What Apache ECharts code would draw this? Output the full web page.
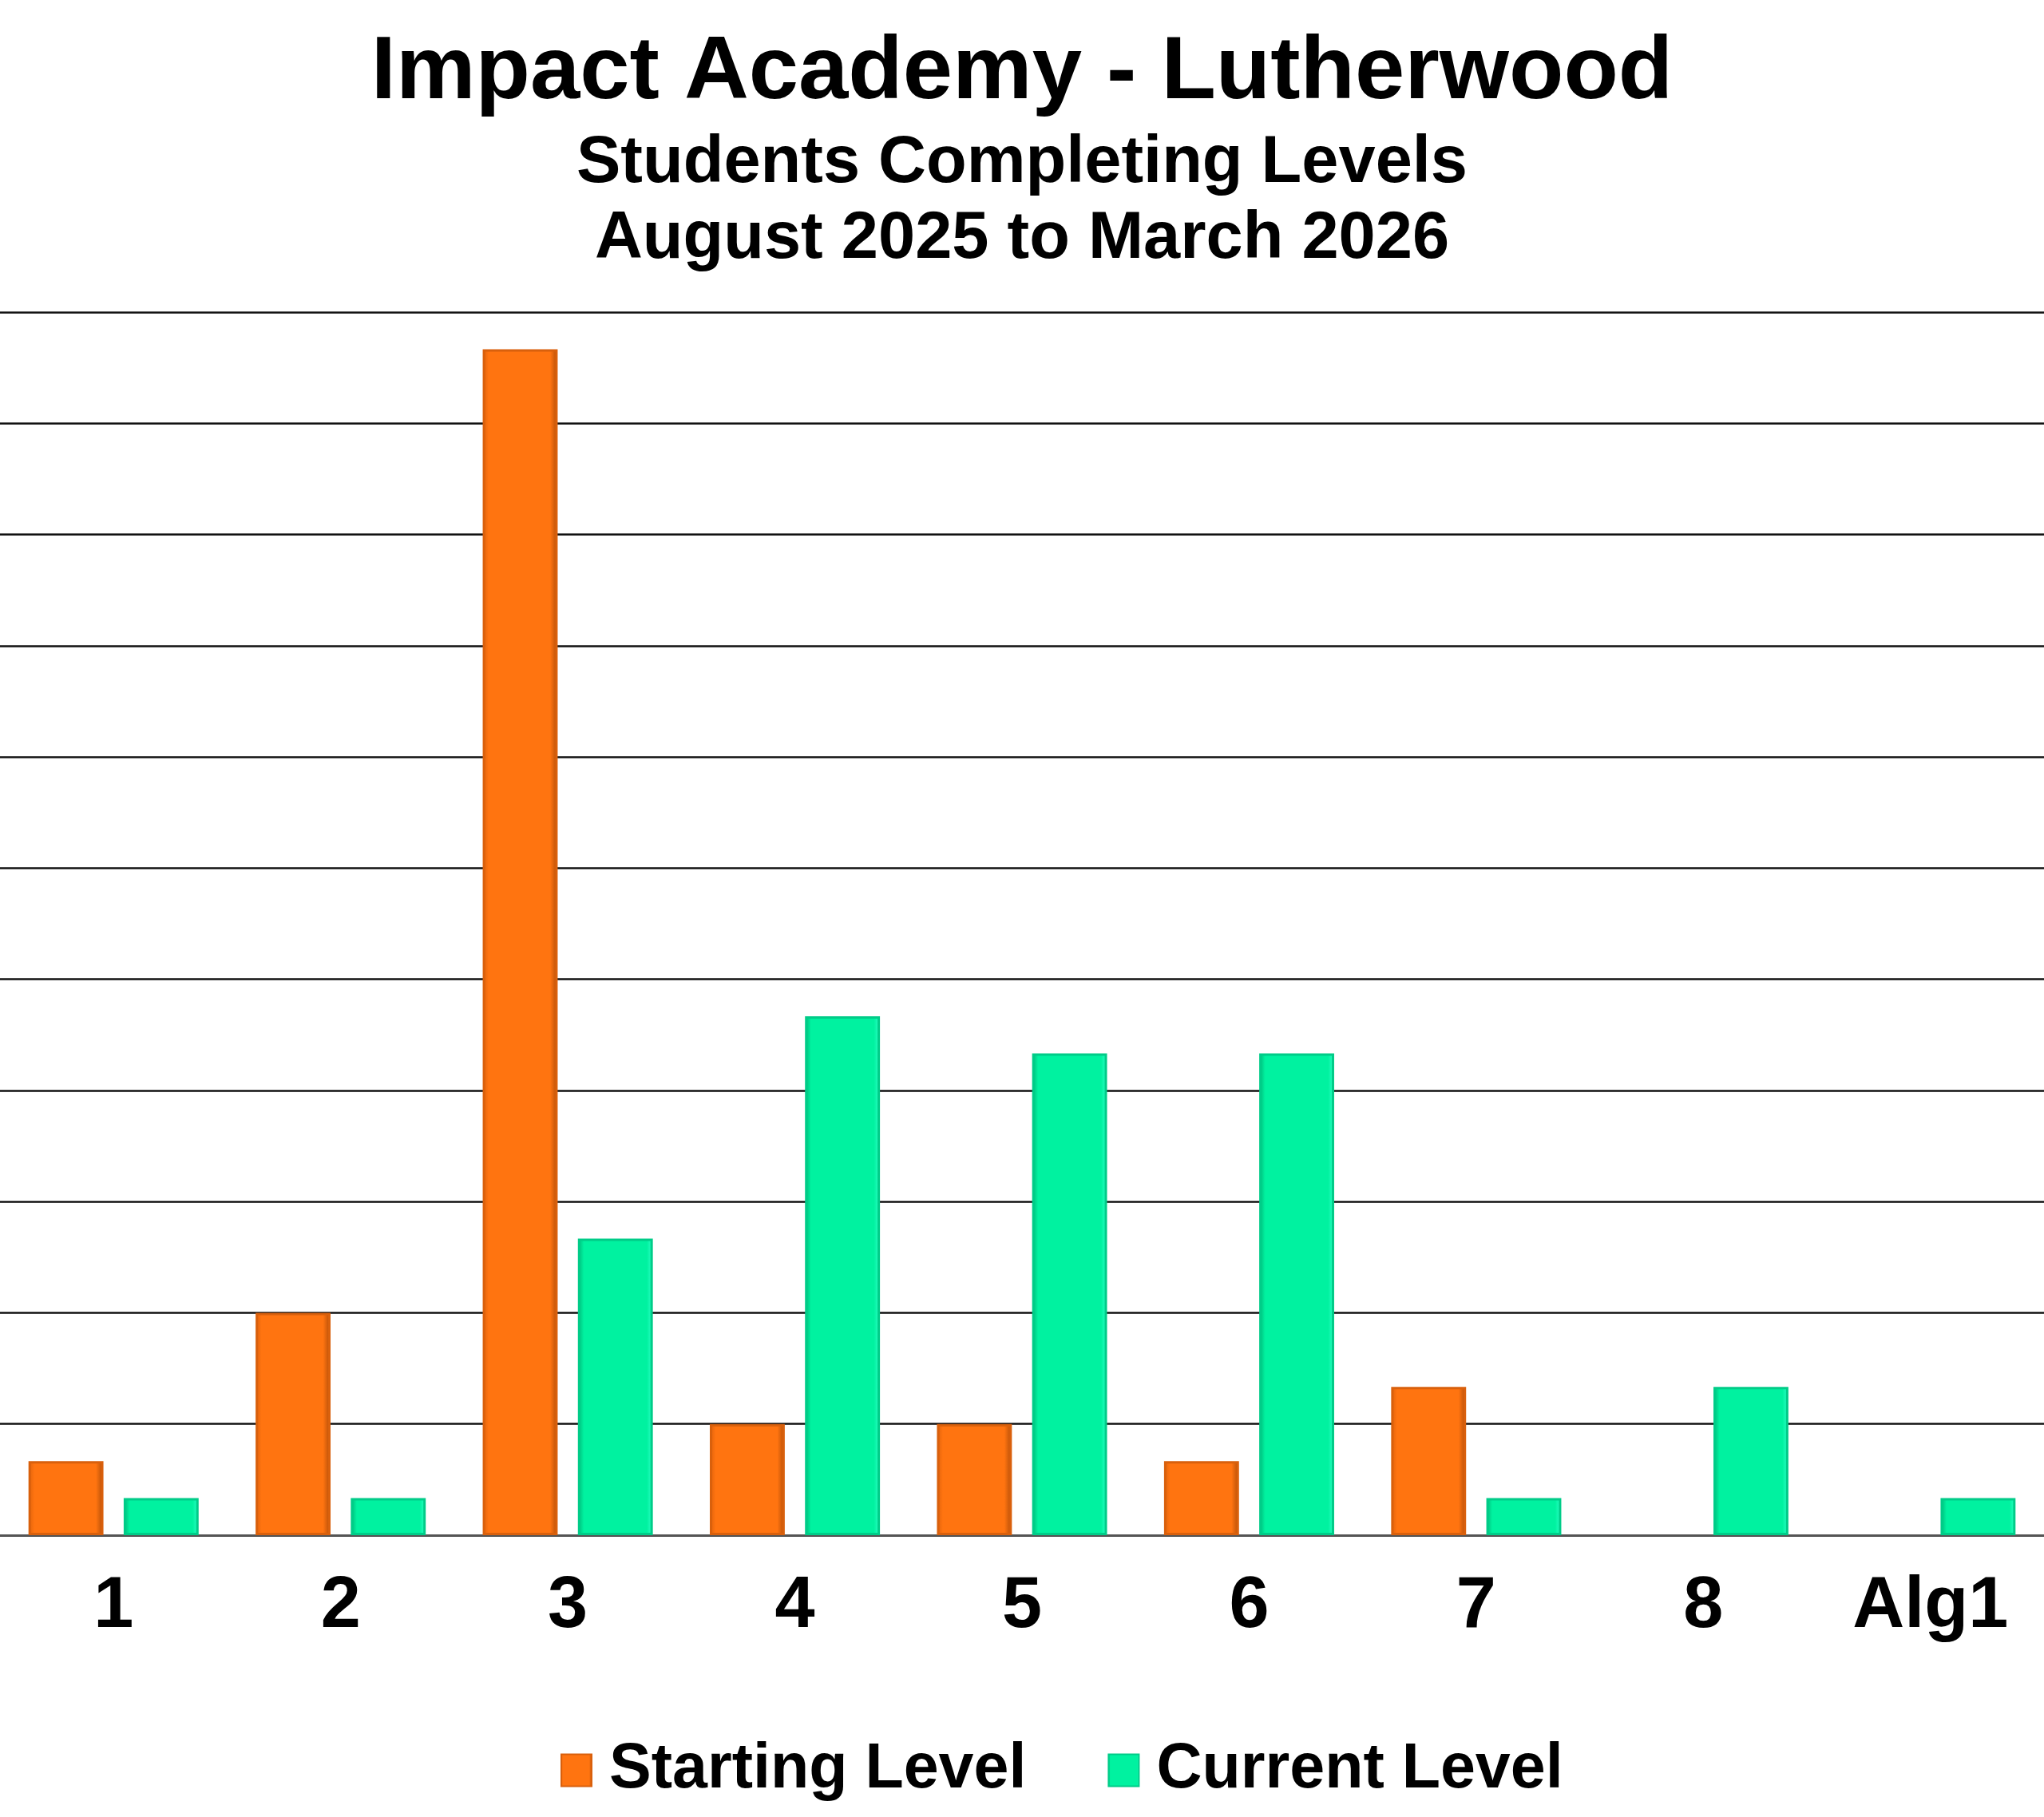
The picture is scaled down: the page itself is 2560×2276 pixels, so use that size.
<!DOCTYPE html>
<html>
<head>
<meta charset="utf-8">
<script src="https://cdn.jsdelivr.net/npm/echarts@6/dist/echarts.min.js"></script>
<style>
html,body{margin:0;padding:0;background:#fff;}
#chart{width:2560px;height:2276px;}
</style>
</head>
<body>
<div id="chart"></div>
<script>
const categories = ['1','2','3','4','5','6','7','8','Alg1'];
const startingLevel = [2, 6, 32, 3, 3, 2, 4, 0, 0];
const currentLevel = [1, 1, 8, 14, 13, 13, 1, 4, 1];
const seriesNames = ['Starting Level', 'Current Level'];
const titleLines = ['Impact Academy - Lutherwood', 'Students Completing Levels', 'August 2025 to March 2026'];

const FONT = '"Liberation Sans", Arial, sans-serif';
const hideZero = arr => arr.map(v => v === 0 ? '-' : v);

const chart = echarts.init(document.getElementById('chart'), null, {renderer: 'canvas'});
chart.setOption({
  backgroundColor: '#ffffff',
  animation: false,
  title: [
    {text: titleLines[0], left: 'center', top: 31,
     textStyle: {fontFamily: FONT, fontWeight: 'bold', fontSize: 112, lineHeight: 112, color: '#000'}},
    {text: titleLines[1], left: 'center', top: 159,
     textStyle: {fontFamily: FONT, fontWeight: 'bold', fontSize: 83, lineHeight: 83, color: '#000'}},
    {text: titleLines[2], left: 'center', top: 254,
     textStyle: {fontFamily: FONT, fontWeight: 'bold', fontSize: 83, lineHeight: 83, color: '#000'}}
  ],
  legend: {
    data: seriesNames,
    left: 702,
    top: 2178,
    padding: 0,
    itemWidth: 38,
    itemHeight: 40,
    itemGap: 102,
    icon: 'rect',
    textStyle: {fontFamily: FONT, fontWeight: 'bold', fontSize: 79, lineHeight: 79, color: '#000', padding: [0, 0, 0, 17]}
  },
  grid: {left: 0, right: 0, top: 391, bottom: 353, containLabel: false},
  xAxis: {
    type: 'category',
    data: categories,
    axisTick: {show: false},
    axisLine: {show: true, lineStyle: {color: '#555', width: 2}},
    axisLabel: {fontFamily: FONT, fontWeight: 'bold', fontSize: 90, color: '#000', margin: 45}
  },
  yAxis: {
    type: 'value',
    min: 0,
    max: 33,
    interval: 3,
    axisLabel: {show: false},
    axisLine: {show: false},
    axisTick: {show: false},
    splitLine: {show: true, lineStyle: {color: '#111', width: 2.5}}
  },
  series: [
    {
      name: seriesNames[0],
      type: 'bar',
      data: hideZero(startingLevel),
      barWidth: '33%',
      barGap: '27%',
      itemStyle: {
        color: new echarts.graphic.LinearGradient(0, 0, 1, 0, [
          {offset: 0, color: '#E0620C'},
          {offset: 0.08, color: '#FF7410'},
          {offset: 0.9, color: '#FF7410'},
          {offset: 1, color: '#B04C08'}
        ]),
        borderColor: '#D9600C',
        borderWidth: 3
      }
    },
    {
      name: seriesNames[1],
      type: 'bar',
      data: hideZero(currentLevel),
      barWidth: '33%',
      itemStyle: {
        color: new echarts.graphic.LinearGradient(0, 0, 1, 0, [
          {offset: 0, color: '#00B878'},
          {offset: 0.08, color: '#00F2A0'},
          {offset: 0.92, color: '#00F2A0'},
          {offset: 1, color: '#30FFC8'}
        ]),
        borderColor: '#00CC88',
        borderWidth: 3
      }
    }
  ]
});
</script>
</body>
</html>
